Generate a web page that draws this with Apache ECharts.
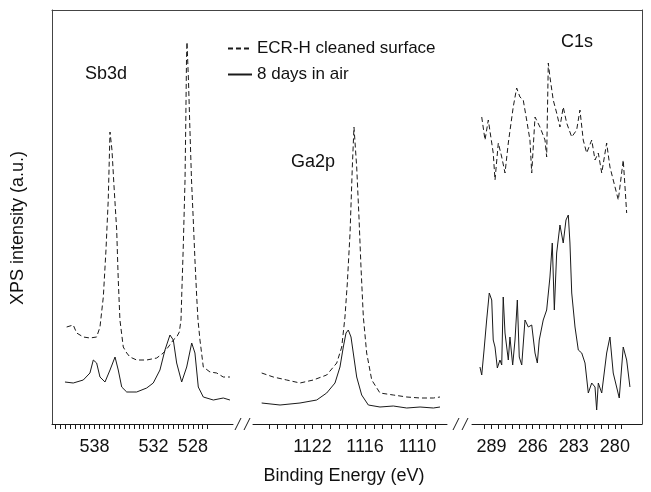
<!DOCTYPE html>
<html><head><meta charset="utf-8">
<script src="https://cdn.jsdelivr.net/npm/echarts@6/dist/echarts.min.js"></script>
<style>html,body{margin:0;padding:0;background:#fff}#c{width:651px;height:492px}</style>
</head><body><div id="c"></div>
<script>
// ---- data ----
const seriesNames = ['ECR-H cleaned surface', '8 days in air'];
const panelTitles = ['Sb3d', 'Ga2p', 'C1s'];
const xAxisTitle = 'Binding Energy (eV)';
const yAxisTitle = 'XPS intensity (a.u.)';

const sbCleaned = [[540.84,97],[540.17,99],[539.82,91],[539.15,87],[538.47,86],[537.79,87],[537.45,97],[537.11,127],[536.84,174],[536.61,224],[536.43,292],[536.23,274],[536.03,239],[535.75,194],[535.59,144],[535.42,104],[535.08,77],[534.73,71],[534.40,67],[533.72,64],[532.70,64],[531.68,66],[531.01,71],[530.50,77],[529.99,84],[529.65,87],[529.38,92],[529.21,104],[529.14,127],[528.98,177],[528.80,244],[528.72,304],[528.65,364],[528.60,382],[528.45,344],[528.30,294],[528.14,244],[527.96,204],[527.79,164],[527.61,127],[527.48,104],[527.28,84],[526.94,57],[526.26,52],[525.58,51],[524.91,47],[524.23,47]];
const sbAir = [[541.01,42],[540.17,41],[539.15,44],[538.47,51],[538.13,64],[537.79,61],[537.45,47],[536.94,42],[536.43,54],[535.92,67],[535.59,54],[535.24,37],[534.73,32],[533.72,32],[532.70,36],[532.03,41],[531.35,54],[530.84,74],[530.33,89],[529.99,84],[529.65,61],[529.14,42],[528.63,57],[528.12,81],[527.79,71],[527.45,37],[526.94,27],[525.92,24],[524.91,26],[524.23,24]];

const gaCleaned = [[1127.81,51],[1126.48,47],[1124.95,44],[1123.43,41],[1121.91,44],[1120.38,49],[1119.23,61],[1118.66,77],[1118.29,107],[1118.02,141],[1117.71,191],[1117.45,257],[1117.26,297],[1116.95,257],[1116.69,207],[1116.46,157],[1116.19,107],[1115.81,71],[1115.23,44],[1114.29,31],[1112.77,29],[1111.23,27],[1109.71,26],[1108.19,26],[1107.43,27]];
const gaAir = [[1127.81,21],[1125.71,19],[1123.43,21],[1121.52,24],[1120.38,31],[1119.43,41],[1118.86,57],[1118.48,77],[1118.17,91],[1117.91,94],[1117.60,87],[1117.34,71],[1116.95,47],[1116.38,29],[1115.62,19],[1114.29,17],[1112.77,18],[1111.23,16],[1109.71,17],[1108.19,16],[1107.43,17]];

const cCleaned = [[289.72,307],[289.48,284],[289.24,304],[288.88,271],[288.75,244],[288.51,281],[288.26,267],[288.02,251],[287.78,281],[287.42,317],[287.17,336],[286.93,327],[286.69,324],[286.44,304],[286.20,284],[286.07,251],[285.83,307],[285.47,297],[285.10,284],[284.98,267],[284.86,361],[284.74,347],[284.50,324],[284.25,311],[284.01,297],[283.77,317],[283.52,301],[283.15,287],[282.79,294],[282.55,314],[282.31,284],[282.06,271],[281.69,284],[281.45,264],[281.21,271],[280.96,251],[280.60,281],[280.36,257],[279.99,237],[279.75,224],[279.39,264],[279.26,237],[279.14,211]];
const cAir = [[289.85,57],[289.72,49],[289.55,74],[289.36,104],[289.17,131],[288.99,124],[288.88,84],[288.75,77],[288.58,56],[288.39,64],[288.26,59],[288.15,127],[288.02,91],[287.78,64],[287.66,87],[287.46,59],[287.29,84],[287.12,124],[286.98,67],[286.80,59],[286.56,104],[286.32,97],[286.07,99],[285.83,71],[285.66,61],[285.52,84],[285.23,104],[284.98,114],[284.74,147],[284.57,181],[284.42,114],[284.25,171],[284.01,199],[283.77,181],[283.57,204],[283.40,209],[283.28,181],[283.15,131],[282.91,97],[282.67,74],[282.42,71],[282.18,61],[281.94,31],[281.69,41],[281.45,37],[281.33,14],[281.21,41],[280.96,31],[280.60,71],[280.36,87],[280.12,51],[279.68,26],[279.39,77],[279.14,64],[278.90,37]];

const sbLabels = [538, 532, 528];
const gaLabels = [1122, 1116, 1110];
const cLabels = [289, 286, 283, 280];
const sbTicks = [542,541.5,541,540.5,540,539.5,539,538.5,538,537.5,537,536.5,536,535.5,535,534.5,534,533.5,533,532.5,532,531.5,531,530.5,530,529.5,529,528.5,528,527.5,527,526.5];
const gaTicks = [1127,1126,1125,1124,1123,1122,1121,1120,1119,1118,1117,1116,1115,1114,1113,1112,1111,1110,1109,1108];
const cTicks = [289.5,289,288.5,288,287.5,287,286.5,286,285.5,285,284.5,284,283.5,283,282.5,282,281.5,281,280.5,280,279.5];
const sbRange = [523.92, 542.33];
const gaRange = [1106.63, 1128.8];
const cRange = [278.02, 290.43];
const yRange = [0, 414];

// ---- chart ----
const FONT = 'Liberation Sans, Arial, Helvetica, sans-serif';
const INK = '#1a1a1a';
const chart = echarts.init(document.getElementById('c'), null, {renderer: 'canvas'});

const gridTop = 10, gridBottom = 68;
const grids = [
  {left: 52, width: 181},
  {left: 253, width: 194},
  {left: 472, width: 170}
].map(g => Object.assign({top: gridTop, bottom: gridBottom, containLabel: false, outerBoundsMode: 'none'}, g));
grids.push({left: 52, right: 9, top: gridTop, bottom: gridBottom, containLabel: false, outerBoundsMode: 'none'});

function panelX(i, range, ticks, labels) {
  return {
    type: 'value', gridIndex: i, inverse: true, min: range[0], max: range[1],
    axisLine: {show: true, onZero: false, lineStyle: {color: INK, width: 1}},
    axisTick: {show: true, customValues: ticks, length: 5, inside: false, lineStyle: {color: INK, width: 1}},
    axisLabel: {show: true, customValues: labels, fontSize: 18, margin: 14, color: '#111', fontFamily: FONT,
      formatter: v => String(v)},
    splitLine: {show: false}
  };
}
const xAxes = [
  panelX(0, sbRange, sbTicks, sbLabels),
  panelX(1, gaRange, gaTicks, gaLabels),
  panelX(2, cRange, cTicks, cLabels),
  {type: 'value', gridIndex: 3, position: 'top', min: 0, max: 1,
   axisLine: {show: true, onZero: false, lineStyle: {color: '#444', width: 1}},
   axisTick: {show: false}, axisLabel: {show: false}, splitLine: {show: false}}
];
const yAxes = [0, 1, 2].map(i => ({
  type: 'value', gridIndex: i, min: yRange[0], max: yRange[1], show: false,
  splitLine: {show: false}
}));
yAxes.push({type: 'value', gridIndex: 3, position: 'left', min: 0, max: 1,
  axisLine: {show: true, onZero: false, lineStyle: {color: '#444', width: 1}},
  axisTick: {show: false}, axisLabel: {show: false}, splitLine: {show: false}});
yAxes.push({type: 'value', gridIndex: 3, position: 'right', min: 0, max: 1,
  axisLine: {show: true, onZero: false, lineStyle: {color: '#444', width: 1}},
  axisTick: {show: false}, axisLabel: {show: false}, splitLine: {show: false}});

const dashStyle = {color: INK, width: 1, type: [5, 3]};
const solidStyle = {color: INK, width: 1, type: 'solid'};
function line(name, idx, data, style) {
  return {name, type: 'line', xAxisIndex: idx, yAxisIndex: idx, data,
    showSymbol: false, symbol: 'none', lineStyle: style, itemStyle: {color: INK},
    silent: true, animation: false, z: 3};
}
const series = [
  line(seriesNames[0], 0, sbCleaned, dashStyle),
  line(seriesNames[1], 0, sbAir, solidStyle),
  line(seriesNames[0], 1, gaCleaned, dashStyle),
  line(seriesNames[1], 1, gaAir, solidStyle),
  line(seriesNames[0], 2, cCleaned, dashStyle),
  line(seriesNames[1], 2, cAir, solidStyle)
];

function brk(x) {
  return {type: 'line', shape: {x1: x - 3, y1: 430, x2: x + 3, y2: 418}, style: {stroke: INK, lineWidth: 1}};
}
function txt(x, y, text, size) {
  return {type: 'text', x, y, style: {text, fontSize: size, fontFamily: FONT, fill: '#111', align: 'center', verticalAlign: 'middle'}};
}

chart.setOption({
  backgroundColor: '#fff',
  animation: false,
  textStyle: {fontFamily: FONT},
  grid: grids,
  xAxis: xAxes,
  yAxis: yAxes,
  legend: {
    data: seriesNames, orient: 'vertical', left: 222, top: 35,
    itemWidth: 24, itemHeight: 10, itemGap: 9,
    itemStyle: {opacity: 0},
    textStyle: {fontSize: 17, color: '#111', fontFamily: FONT},
    selectedMode: false, backgroundColor: 'transparent'
  },
  graphic: [
    brk(238), brk(247), brk(456), brk(465),
    txt(106, 74, panelTitles[0], 18),
    txt(313, 162, panelTitles[1], 18),
    txt(577, 42, panelTitles[2], 18),
    txt(344, 476, xAxisTitle, 18),
    Object.assign(txt(18, 228, yAxisTitle, 18), {rotation: Math.PI / 2})
  ],
  series
});
</script></body></html>
